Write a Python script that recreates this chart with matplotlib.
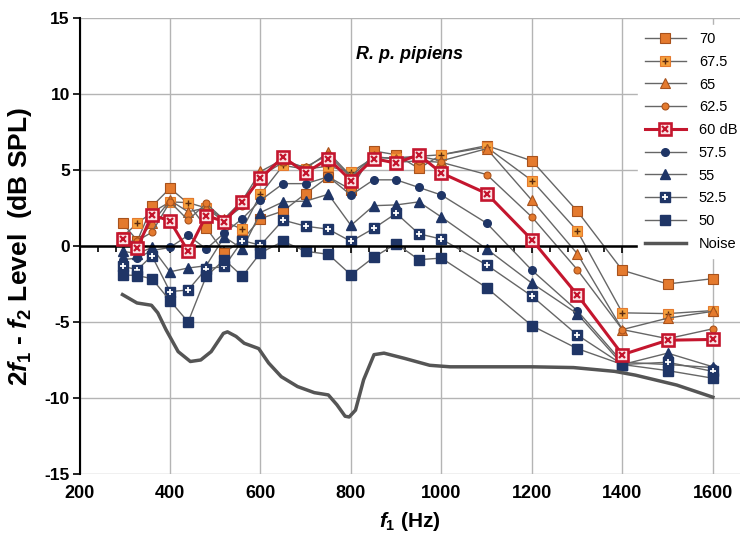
import matplotlib
matplotlib.use('Agg')
import matplotlib.pyplot as plt
from matplotlib.ticker import MultipleLocator
from matplotlib.legend_handler import HandlerTuple

plt.rcParams['font.family'] = ['Liberation Sans', 'DejaVu Sans']
plt.rcParams['mathtext.fontset'] = 'custom'
plt.rcParams['mathtext.it'] = 'Liberation Sans:italic:bold'
plt.rcParams['mathtext.rm'] = 'Liberation Sans:bold'
plt.rcParams['mathtext.bf'] = 'Liberation Sans:bold'
plt.rcParams['axes.unicode_minus'] = False

# f1 frequencies (Hz)
freqs = [295, 328, 360, 400, 440, 480, 520, 560, 600, 650, 700, 750, 800,
         850, 900, 950, 1000, 1100, 1200, 1300, 1400, 1500, 1600]

# DP level (dB SPL) per stimulus level
lvl_70 = [1.5, 0.35, 2.6, 3.8, 2.8, 1.2, -0.45, 0.4, 1.8, 2.3, 3.45, 4.55, 3.7,
          6.25, 6.0, 5.1, 6.0, 6.6, 5.6, 2.3, -1.6, -2.5, -2.15]
lvl_675 = [0.6, 1.5, 2.2, 2.9, 2.85, 2.5, 1.6, 1.1, 3.4, 5.3, 5.05, 5.25, 4.85,
           5.8, 5.8, 5.9, 6.0, 6.5, 4.3, 1.0, -4.4, -4.45, -4.25]
lvl_65 = [0.3, 0.3, 1.5, 3.0, 2.25, 2.5, 1.8, 3.0, 4.9, 5.7, 5.1, 6.15, 4.6,
          5.9, 5.7, 5.9, 5.6, 6.4, 3.0, -0.5, -5.5, -4.75, -4.3]
lvl_625 = [0.2, 0.35, 0.9, 2.9, 1.7, 2.8, 1.7, 2.6, 4.6, 5.5, 5.2, 6.0, 4.5,
           5.7, 5.5, 5.6, 5.5, 4.7, 1.9, -1.55, -5.5, -6.1, -5.45]
lvl_60 = [0.45, -0.15, 2.05, 1.65, -0.35, 2.0, 1.6, 2.9, 4.45, 5.85, 4.8, 5.75,
          4.3, 5.75, 5.45, 6.0, 4.8, 3.45, 0.4, -3.2, -7.15, -6.2, -6.15]
lvl_575 = [-0.9, -0.8, -0.3, -0.1, 0.7, -0.2, 0.85, 1.8, 3.0, 4.1, 4.1, 4.55,
           3.35, 4.35, 4.35, 3.85, 3.35, 1.5, -1.6, -4.25, -7.65, -7.8, -8.0]
lvl_55 = [-0.35, -0.5, -0.1, -1.7, -1.45, -1.3, 0.6, -0.2, 2.2, 2.9, 2.95,
          3.4, 1.35, 2.65, 2.7, 2.9, 1.9, -0.2, -2.45, -4.45, -7.8, -7.05, -7.95]
lvl_525 = [-1.35, -1.55, -0.65, -3.0, -2.9, -1.5, -1.35, 0.35, 0.05, 1.7, 1.3,
           1.1, 0.3, 1.15, 2.15, 0.8, 0.45, -1.25, -3.3, -5.85, -7.8, -7.65, -8.25]
lvl_50 = [-1.9, -1.95, -2.15, -3.6, -5.0, -2.0, -0.9, -2.0, -0.45, 0.3, -0.35,
          -0.55, -1.9, -0.75, 0.15, -0.9, -0.8, -2.75, -5.25, -6.75, -7.8, -8.2, -8.7]

# noise floor trace
noise_f = [295, 327, 359, 373, 391, 418, 445, 468, 491, 518, 527, 546, 564, 596,
           618, 646, 682, 719, 750, 769, 787, 796, 810, 828, 851, 873, 919, 974,
           1019, 1110, 1201, 1292, 1383, 1429, 1520, 1600]
noise_db = [-3.2, -3.75, -3.9, -4.4, -5.5, -6.95, -7.6, -7.5, -6.95, -5.75,
            -5.65, -5.95, -6.4, -6.75, -7.7, -8.6, -9.25, -9.65, -9.8, -10.45,
            -11.2, -11.25, -10.8, -8.8, -7.15, -7.05, -7.4, -7.85, -7.95, -7.95,
            -7.95, -8.0, -8.25, -8.5, -9.15, -9.95]

labels = ['70', '67.5', '65', '62.5', '60 dB', '57.5', '55', '52.5', '50', 'Noise']

ORANGE = '#E47A2E'
ORANGE_EDGE = '#A8521C'
ORANGE_LT = '#F5A03C'
NAVY = '#1F3566'
RED = '#C4162E'
LINE = '#666666'

fig = plt.figure(figsize=(7.46, 5.34), dpi=100)
ax = fig.add_axes([0.1066, 0.1124, 0.8854, 0.854])

ax.set_xlim(200, 1660)
ax.set_ylim(-15, 15)

handles = []
h = ax.plot(freqs, lvl_70, color=LINE, lw=1, marker='s', ms=6.5,
            mfc=ORANGE, mec=ORANGE_EDGE, mew=0.8)[0]
handles.append(h)

h1 = ax.plot(freqs, lvl_675, color=LINE, lw=1, marker='s', ms=6.5,
             mfc=ORANGE_LT, mec=ORANGE, mew=0.8)[0]
h2 = ax.plot(freqs, lvl_675, ls='none', marker='+', ms=4.5,
             mec='#5a2a10', mew=1.0)[0]
handles.append((h1, h2))

h = ax.plot(freqs, lvl_65, color=LINE, lw=1, marker='^', ms=6.5,
            mfc=ORANGE, mec=ORANGE_EDGE, mew=0.8)[0]
handles.append(h)

h = ax.plot(freqs, lvl_625, color=LINE, lw=1, marker='o', ms=5,
            mfc=ORANGE, mec=ORANGE_EDGE, mew=0.8)[0]
handles.append(h)

h1 = ax.plot(freqs, lvl_60, color=RED, lw=2.2, marker='s', ms=8,
             mfc='#fbe3e5', mec=RED, mew=1.9, zorder=4)[0]
h2 = ax.plot(freqs, lvl_60, ls='none', marker='x', ms=4.5,
             mec=RED, mew=1.6, zorder=4)[0]
handles.append((h1, h2))

h = ax.plot(freqs, lvl_575, color=LINE, lw=1, marker='o', ms=5.5,
            mfc=NAVY, mec=NAVY)[0]
handles.append(h)

h = ax.plot(freqs, lvl_55, color=LINE, lw=1, marker='^', ms=6.5,
            mfc=NAVY, mec=NAVY)[0]
handles.append(h)

h1 = ax.plot(freqs, lvl_525, color=LINE, lw=1, marker='s', ms=7,
             mfc=NAVY, mec=NAVY)[0]
h2 = ax.plot(freqs, lvl_525, ls='none', marker='+', ms=4.5,
             mec='white', mew=1.3)[0]
handles.append((h1, h2))

h = ax.plot(freqs, lvl_50, color=LINE, lw=1, marker='s', ms=6.5,
            mfc=NAVY, mec=NAVY)[0]
handles.append(h)

h = ax.plot(noise_f, noise_db, color='#555555', lw=2.5)[0]
handles.append(h)

# grid
ax.set_xticks(range(200, 1601, 200))
ax.set_yticks(range(-15, 16, 5))
ax.grid(True, color='#b4b4b4', lw=1)
ax.set_axisbelow(True)

# the x axis crosses at 0 dB: black line with ticks, no labels there
for s in ['top', 'right']:
    ax.spines[s].set_visible(False)
ax.spines['bottom'].set_position(('data', 0))
ax.spines['bottom'].set_color('black')
ax.spines['bottom'].set_linewidth(1.8)
ax.spines['bottom'].set_zorder(3)
ax.xaxis.set_minor_locator(MultipleLocator(40))
ax.tick_params(axis='x', which='both', direction='out', labelbottom=False,
               width=1.2, color='black')
ax.tick_params(axis='x', which='major', length=5)
ax.tick_params(axis='x', which='minor', length=4)

ax.spines['left'].set_color('black')
ax.spines['left'].set_linewidth(1.5)
ax.tick_params(axis='y', length=5, width=1.2, direction='out', pad=2, labelsize=12.5)
for t in ax.get_yticklabels():
    t.set_fontweight('bold')

# frequency labels along the bottom edge
bot = ax.secondary_xaxis('bottom')
bot.set_xticks(range(200, 1601, 200))
bot.spines['bottom'].set_visible(False)
bot.tick_params(length=0, pad=8, labelsize=13)
for t in bot.get_xticklabels():
    t.set_fontweight('bold')

ax.set_ylabel(r'2$f_1$ - $f_2$ Level  (dB SPL)', fontsize=19, fontweight='bold')
ax.yaxis.set_label_coords(-0.069, 0.5)
ax.set_xlabel(r'$f_1$ (Hz)', fontsize=15, fontweight='bold')
ax.xaxis.set_label_coords(0.5, -0.078)

ax.text(930, 12.6, 'R. p. pipiens', fontsize=13, fontweight='bold',
        fontstyle='italic', ha='center', va='center')

leg = ax.legend(handles, labels, handler_map={tuple: HandlerTuple(ndivide=1)},
                loc='upper left', bbox_to_anchor=(0.845, 0.985), borderaxespad=0,
                fontsize=10.5, labelspacing=0.6, handlelength=2.8,
                handletextpad=0.9, borderpad=0.5, frameon=True, fancybox=False,
                framealpha=1)
leg.get_frame().set_edgecolor('white')
leg.set_zorder(6)

fig.savefig('out.png', dpi=100)
